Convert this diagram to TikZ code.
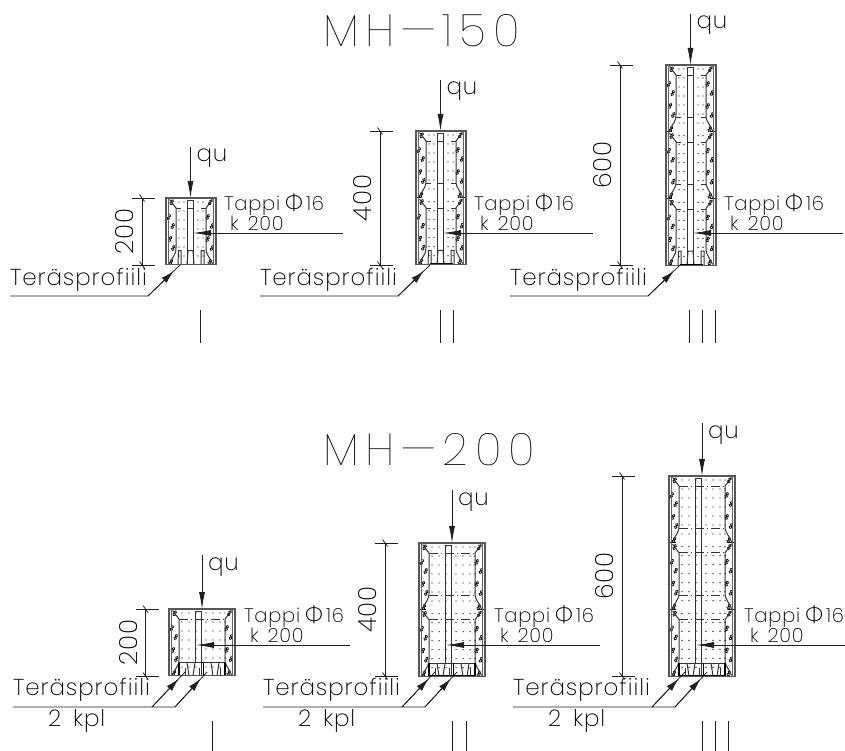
\documentclass[tikz,border=0pt]{standalone}
\usepackage{fontspec}
\setmainfont{Poppins}[UprightFont=* ExtraLight,Ligatures=NoCommon,LetterSpace=4]
\newfontfamily\titlef{Poppins}[UprightFont=* Thin,Ligatures=NoCommon,LetterSpace=15]
\newfontfamily\phifont{Lato}[UprightFont=* Light]
\usetikzlibrary{arrows.meta,calc}
\definecolor{ink}{gray}{0.12}
\tikzset{
 x=1pt,y=-1pt,
 ln/.style={draw=ink,line width=0.8pt},
 edge/.style={draw=ink!75,line width=1.2pt},
 bar/.style={draw=black!80,line width=1pt},
 txt/.style={inner sep=0pt,outer sep=0pt,text=black},
 lbl/.style={txt,anchor=base west,font=\fontsize{23}{23}\selectfont},
 small/.style={txt,anchor=base west,font=\fontsize{19.5}{20}\selectfont},
 dimt/.style={txt,anchor=center,rotate=90,font=\fontsize{25}{25}\selectfont},
 quarrow/.style={ln,-{Latex[length=17pt,width=6pt]}},
 lead/.style={ln,-{Latex[length=18pt,width=6pt]}},
 prof/.style={ln,-{Latex[length=13pt,width=7pt]}},
}
\newcommand{\rb}[2]{\draw[draw=black,line width=0.7pt,rotate around={-25:(#1,#2)}] (#1,#2-1.4) circle[radius=1.3] (#1,#2+1.3) circle[radius=1.4];}
\newcommand{\storey}[2]{%
 \rb{5.7}{#2+4.3}\rb{2.8}{#2+19}\rb{6.7}{#2+28}\rb{4}{#2+41}\rb{7.3}{#2+50}\rb{5}{#2+64}
 \rb{#1-5.7}{#2+4.3}\rb{#1-8.3}{#2+19}\rb{#1-4}{#2+28}\rb{#1-8.3}{#2+41}\rb{#1-4}{#2+50}\rb{#1-6.3}{#2+64}
 \draw[bar] (3.5,#2+1.5)--(10,#2+10)--(10,#2+50)..controls (10,#2+58)and(5,#2+60)..(3.5,#2+66);
 \draw[bar] (#1-3.5,#2+1.5)--(#1-10,#2+10)--(#1-10,#2+50)..controls (#1-10,#2+58)and(#1-5,#2+60)..(#1-3.5,#2+66);
}
\newcommand{\colA}[4]{%
 \pgfmathsetmacro{\hh}{#3*66.7}
 \begin{scope}[shift={(#1,#2)}]
 \foreach \kk in {1,...,#3}{\pgfmathsetmacro{\yy}{(\kk-1)*66.7}
  \storey{50}{\yy}
  \foreach \rw in {0,...,6}{\foreach \cl in {13,18,32,37}{\fill[black] (\cl,\yy+4+\rw*9) circle[radius=0.7];}}
  \draw[bar] (10,\yy+11)--(15,\yy+11) (35,\yy+11)--(40,\yy+11) (22,\yy+11)--(28,\yy+11);
  \ifnum\kk>1 \draw[bar] (10,\yy-14)--(15,\yy-14) (35,\yy-14)--(40,\yy-14) (22,\yy-14)--(28,\yy-14);
   \draw[black,line width=1.2pt] (0,\yy)--(6,\yy) (44,\yy)--(50,\yy);\fi
 }
 \pgfmathsetmacro{\bb}{\hh-14}
 \draw[bar] (21.5,\hh)--(21.5,2.5)--(27.5,2.5)--(27.5,\hh);
 \draw[bar] (12,\hh)--(12.5,\bb)--(15,\bb)--(15,\hh) (35,\hh)--(35,\bb)--(38,\bb)--(38,\hh);
 \draw[bar] (21,\hh)--(22,\bb)--(27,\bb)--(28,\hh);
 \draw[black,line width=1.2pt] (14,\hh-0.5)--(37,\hh-0.5);
 \draw[edge] (0,0) rectangle (50,\hh);
 \draw[ink!70,line width=0.7pt] (2.5,0)--(2.5,\hh) (47.5,0)--(47.5,\hh);
 \end{scope}}
\newcommand{\colB}[4]{%
 \pgfmathsetmacro{\hh}{#3*66.7}
 \begin{scope}[shift={(#1,#2)}]
 \foreach \kk in {1,...,#3}{\pgfmathsetmacro{\yy}{(\kk-1)*66.7}
  \storey{66}{\yy}
  \foreach \rw in {0,...,6}{\foreach \cl in {13,20,27,37,44,51,56}{\fill[black] (\cl,\yy+4+\rw*9) circle[radius=0.7];}}
  \draw[bar,dash pattern=on 9pt off 3pt on 1pt off 3pt] (10,\yy+10)--(56,\yy+10);
  \ifnum\kk>1 \draw[black,line width=1.2pt] (0,\yy)--(7,\yy) (59,\yy)--(66,\yy);\draw[bar,dash pattern=on 9pt off 3pt on 1pt off 3pt] (10,\yy-14)--(56,\yy-14);\fi
 }
 \pgfmathsetmacro{\bb}{\hh-13}
 \draw[bar] (26,\bb)--(26,2)--(32,2)--(32,\hh-1);
 \draw[bar] (10,\bb)--(57,\bb);
 \draw[black,line width=1.4pt] (10,\bb)--(10,\hh) (34.5,\bb)--(34.5,\hh) (56,\bb)--(56,\hh) (10,\hh-0.5)--(57,\hh-0.5);
 \foreach \cl in {18,42}{\draw[bar] (\cl,\bb)--(\cl+2,\hh) (\cl+8,\bb)--(\cl+6,\hh);}
 \draw[bar] (16,\bb+5)--(16,\hh) (30,\bb+5)--(30,\hh) (51,\bb+5)--(51,\hh);
 \draw[edge] (0,0) rectangle (66,\hh);
 \draw[ink!70,line width=0.7pt] (2.5,0)--(2.5,\hh) (63.5,0)--(63.5,\hh);
 \end{scope}}
\newcommand{\dimn}[5]{%
 \coordinate (#1a) at (#2,#3); \coordinate (#1b) at (#2,#4);
 \coordinate (#1c) at (#2-10,#3); \coordinate (#1d) at (#2+13,#3);
 \coordinate (#1e) at (#2-10,#4); \coordinate (#1f) at (#2+13,#4);
 \draw[ln] (#1c)--(#1d) (#1e)--(#1f) (#1a)--(#1b);
 \draw[ln] ($(#1a)+(-2.5,-3.5)$)--($(#1a)+(2.5,3.5)$) ($(#1b)+(-2.5,-3.5)$)--($(#1b)+(2.5,3.5)$);
 \node[dimt] (#1t) at ($(#1a)!0.5!(#1b)+(-17,0)$) {#5};}
\newcommand{\phisym}{{\phifont\fontsize{22}{22}\selectfont\char"03A6}}
\newcommand{\tappi}[7]{%
 \node[small] (#1t) at (#6,#3) {Tappi\hspace{5pt}\phisym\hspace{3pt}16};
 \node[small] (#1k) at (#6+6,#4) {k\hspace{9pt}200};
 \coordinate (#1s) at (#7,#5); \coordinate (#1e) at (#2,#5);
 \draw[lead] (#1s)--(#1e);}
\newcommand{\loadarrow}[4]{%
 \coordinate (#1s) at (#2,#3); \coordinate (#1e) at (#2,#4);
 \draw[quarrow] (#1s)--(#1e);
 \node[lbl,font=\fontsize{23}{23}\selectfont] (#1q) at (#2+6,#3+15) {qu};}
\newcommand{\romans}[4]{%
 \foreach \vv [count=\ii] in {#2}{\coordinate (#1a\ii) at (\vv,#3);\coordinate (#1b\ii) at (\vv,#4);\draw[ln] (#1a\ii)--(#1b\ii);}}
\begin{document}
\begin{tikzpicture}
\useasboundingbox (0,0) rectangle (845,751);
\node[txt,anchor=base west,font=\titlef\fontsize{45}{45}\selectfont] (t1) at (323,47) {MH\char"2014 150};
\node[txt,anchor=base west,font=\titlef\fontsize{45}{45}\selectfont] (t2) at (323,465) {MH\char"2014 200};
\foreach \nm/\xl/\nn/\tp/\dx/\lab/\ys in {a/166/1/198/142/200/147,b/416/2/131/380/400/80,c/666/3/65/620/600/14}{
 \colA{\xl}{\tp}{\nn}{\nm}
 \dimn{d\nm}{\dx}{\tp}{265}{\lab}
 \pgfmathsetmacro{\ax}{\xl+24.5}
 \loadarrow{l\nm}{\ax}{\ys}{\tp}
 \pgfmathsetmacro{\tipx}{\xl+27}\pgfmathsetmacro{\tx}{\xl+58}\pgfmathsetmacro{\ex}{\xl+177}
 \tappi{p\nm}{\tipx}{211}{231}{233}{\tx}{\ex}
 \pgfmathsetmacro{\px}{\xl-156}\pgfmathsetmacro{\qx}{\xl-18}\pgfmathsetmacro{\rx}{\xl+14}
 \node[lbl] (s\nm) at (\px,285) {Teräsprofiili};
 \coordinate (s\nm a) at (\px,296); \coordinate (s\nm b) at (\qx,296); \coordinate (s\nm c) at (\rx,265);
 \coordinate (s\nm h) at ($(s\nm b)!0.8!(s\nm c)$);
 \draw[ln] (s\nm a)--(s\nm b)--(s\nm c);
 \draw[prof] (s\nm b)--(s\nm h);
}
\romans{ra}{200}{310}{343}
\romans{rb}{440,453}{310}{343}
\romans{rc}{689,702,715}{310}{343}
\foreach \nm/\xl/\nn/\tp/\dx/\lab/\ys in {e/169/1/609/145.5/200/555,f/419/2/543/385/400/490,g/669/3/476/622/600/423}{
 \colB{\xl}{\tp}{\nn}{\nm}
 \dimn{d\nm}{\dx}{\tp}{676}{\lab}
 \pgfmathsetmacro{\ax}{\xl+33}
 \loadarrow{l\nm}{\ax}{\ys}{\tp}
 \pgfmathsetmacro{\tipx}{\xl+27}\pgfmathsetmacro{\tx}{\xl+75}\pgfmathsetmacro{\ex}{\xl+181}
 \tappi{p\nm}{\tipx}{622}{642}{645}{\tx}{\ex}
 \pgfmathsetmacro{\px}{\xl-156}\pgfmathsetmacro{\qx}{\xl-17}\pgfmathsetmacro{\rx}{\xl+16}
 \pgfmathsetmacro{\ux}{\xl+6}\pgfmathsetmacro{\vx}{\xl+38}\pgfmathsetmacro{\kx}{\xl-121}
 \node[lbl] (s\nm) at (\px,695) {Teräsprofiili};
 \node[lbl] (k\nm) at (\kx,726) {2\hspace{12pt}kpl};
 \coordinate (s\nm a) at (\px,707); \coordinate (s\nm b) at (\qx,707); \coordinate (s\nm c) at (\rx,672);
 \coordinate (s\nm d) at (\ux,707); \coordinate (s\nm e) at (\vx,672);
 \coordinate (s\nm h) at ($(s\nm b)!0.8!(s\nm c)$);
 \coordinate (s\nm i) at ($(s\nm d)!0.8!(s\nm e)$);
 \draw[ln] (s\nm a)--(s\nm d)--(s\nm e) (s\nm b)--(s\nm c);
 \draw[prof] (s\nm b)--(s\nm h);
 \draw[prof] (s\nm d)--(s\nm i);
}
\romans{re}{212}{721}{751}
\romans{rf}{452,466}{721}{751}
\romans{rg}{702,715,728}{721}{751}
\end{tikzpicture}
\end{document}
